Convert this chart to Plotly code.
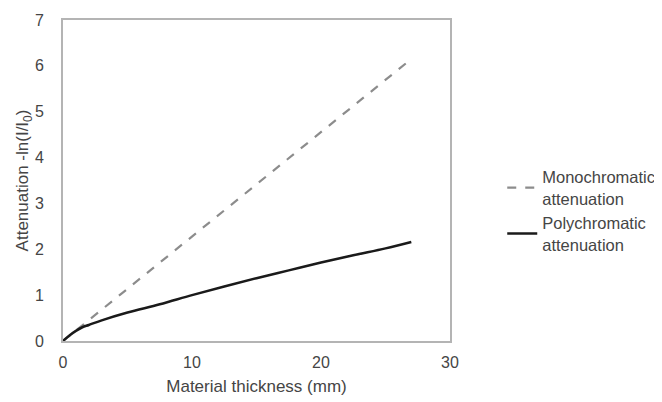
import plotly.graph_objects as go

# Data
mono_x = [0, 27]
mono_y = [0, 6.15]

poly_x = [0, 0.5, 1, 1.5, 2, 3, 5, 7.5, 10, 12.5, 15, 17.5, 20, 22.5, 25, 27]
poly_y = [0, 0.12, 0.22, 0.30, 0.35, 0.45, 0.62, 0.80, 1.00, 1.19, 1.37, 1.54, 1.71, 1.87, 2.02, 2.16]

x_ticks = [0, 10, 20, 30]
y_ticks = [0, 1, 2, 3, 4, 5, 6, 7]

font_family = "Liberation Sans, Arial, sans-serif"
text_color = "#454545"
axis_color = "#b4b4b4"

fig = go.Figure()
fig.add_trace(go.Scatter(
    x=mono_x, y=mono_y, mode="lines",
    name="Monochromatic<br>attenuation",
    line=dict(color="#8c8c8c", width=2.2, dash="dash"),
))
fig.add_trace(go.Scatter(
    x=poly_x, y=poly_y, mode="lines",
    name="Polychromatic<br>attenuation",
    line=dict(color="#1a1a1a", width=2.5, shape="spline"),
))

fig.update_layout(
    width=662, height=402,
    margin=dict(l=55, r=220, t=12, b=69, autoexpand=False),
    plot_bgcolor="white", paper_bgcolor="white",
    font=dict(family=font_family, size=16, color=text_color),
    legend=dict(
        x=1.135, y=0.565, xanchor="left", yanchor="top",
        font=dict(size=16.5, color=text_color),
        tracegroupgap=6,
        bgcolor="rgba(0,0,0,0)",
    ),
    xaxis=dict(
        range=[0, 30], tickvals=x_ticks,
        showgrid=False, zeroline=False,
        showline=True, linecolor=axis_color, linewidth=2, mirror=True,
        ticks="", automargin=False, ticklabelstandoff=6,
        title=dict(text="Material thickness (mm)", standoff=10,
                   font=dict(size=17, color=text_color)),
        tickfont=dict(size=16, color=text_color),
    ),
    yaxis=dict(
        range=[0, 7], tickvals=y_ticks,
        showgrid=False, zeroline=False,
        showline=True, linecolor=axis_color, linewidth=2, mirror=True,
        ticks="", automargin=False, ticklabelstandoff=14,
        title=dict(text="Attenuation -ln(I/I<sub>0</sub>)", standoff=2,
                   font=dict(size=17, color=text_color)),
        tickfont=dict(size=16, color=text_color),
    ),
)

fig.write_html("out.html")
